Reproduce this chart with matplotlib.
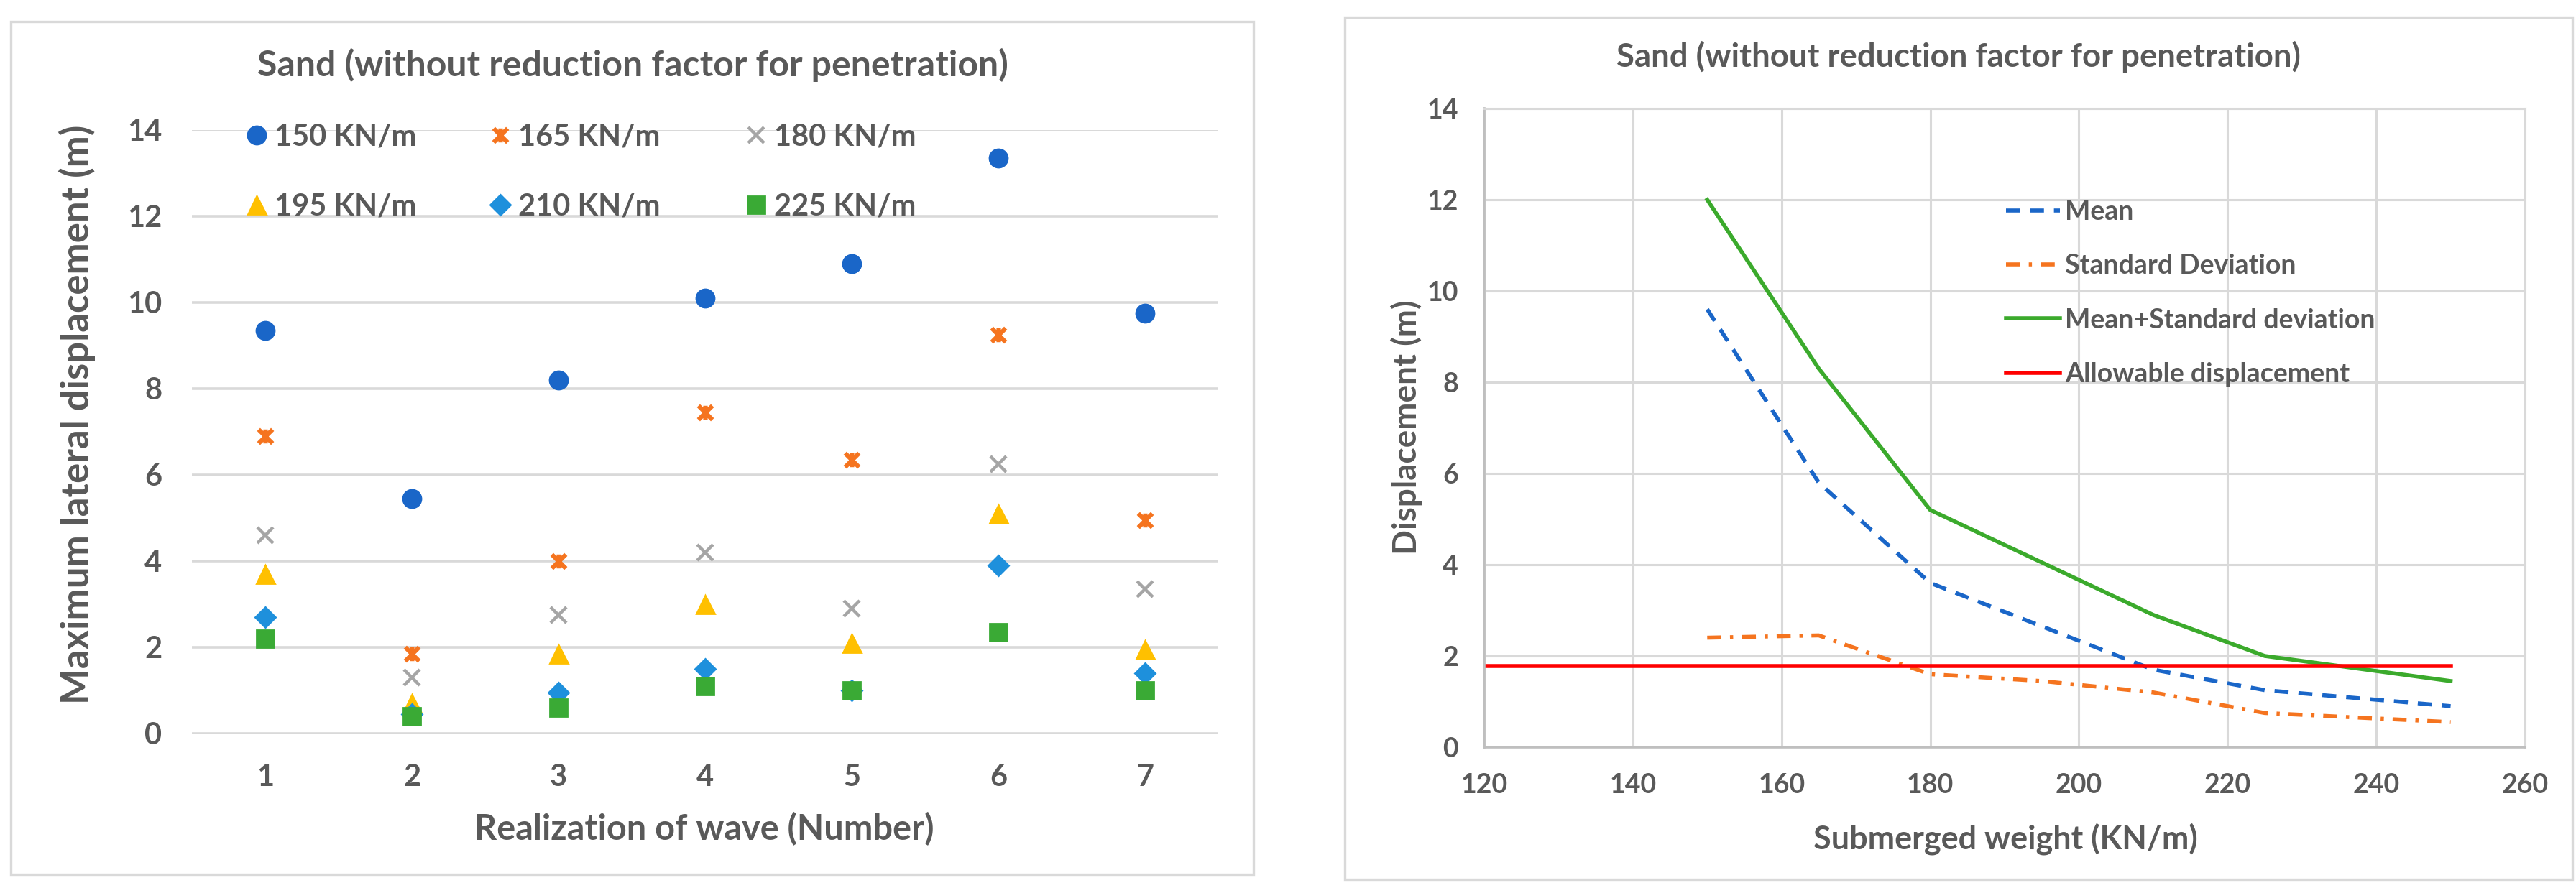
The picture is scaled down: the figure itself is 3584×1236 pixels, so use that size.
import matplotlib
matplotlib.use('Agg')
import matplotlib.pyplot as plt
from matplotlib.patches import Rectangle
from matplotlib.path import Path

# Left chart: maximum lateral displacement per wave realization
realization = [1, 2, 3, 4, 5, 6, 7]
disp_150 = [9.35, 5.45, 8.2, 10.1, 10.9, 13.35, 9.75]
disp_165 = [6.9, 1.85, 4.0, 7.45, 6.35, 9.25, 4.95]
disp_180 = [4.6, 1.3, 2.75, 4.2, 2.9, 6.25, 3.35]
disp_195 = [3.7, 0.7, 1.85, 3.0, 2.1, 5.1, 1.95]
disp_210 = [2.7, 0.45, 0.95, 1.5, 1.0, 3.9, 1.4]
disp_225 = [2.2, 0.4, 0.6, 1.1, 1.0, 2.35, 1.0]
series_labels = ['150 KN/m', '165 KN/m', '180 KN/m', '195 KN/m', '210 KN/m', '225 KN/m']

# Right chart: statistics vs submerged weight
weight = [150, 165, 180, 195, 210, 225, 250]
mean_disp = [9.6, 5.8, 3.6, 2.65, 1.7, 1.25, 0.9]
std_disp = [2.4, 2.45, 1.6, 1.45, 1.2, 0.75, 0.55]
mean_plus_std = [12.0, 8.3, 5.2, 4.05, 2.9, 2.0, 1.45]
allow_x = [120, 250]
allow_y = [1.78, 1.78]

title = 'Sand (without reduction factor for penetration)'
TXT = '#595959'
GRID = '#D9D9D9'
plt.rcParams['font.family'] = ['Lato', 'DejaVu Sans']

# Excel-like "star" marker: X with a vertical bar
star = Path([(-1, -1), (1, 1), (-1, 1), (1, -1), (0, -1), (0, 1)],
            [Path.MOVETO, Path.LINETO] * 3)

W, H = 3584, 1236
fig = plt.figure(figsize=(W / 200, H / 200), dpi=200)

def px_rect(x0, y0, x1, y1):
    return [x0 / W, 1 - y1 / H, (x1 - x0) / W, (y1 - y0) / H]

# panel borders
for x0, y0, x1, y1 in [(15, 30, 1744, 1217), (1871, 24, 3579, 1224)]:
    b = px_rect(x0, y0, x1, y1)
    fig.patches.append(Rectangle((b[0], b[1]), b[2], b[3], transform=fig.transFigure,
                                 fill=False, edgecolor=GRID, linewidth=1.2))

# ---------- left chart ----------
ax1 = fig.add_axes(px_rect(267, 181, 1695, 1021))
styles = [
    dict(marker='o', color='#1A66C8', ms=9, ls='none'),
    dict(marker=star, color='#F5741F', ms=7, mew=2.2, ls='none'),
    dict(marker='x', color='#A5A5A5', ms=8, mew=1.6, ls='none'),
    dict(marker='^', color='#FFC000', ms=9, ls='none'),
    dict(marker='D', color='#1E90DC', ms=7, ls='none'),
    dict(marker='s', color='#3AAA35', ms=8.5, ls='none'),
]
all_series = [disp_150, disp_165, disp_180, disp_195, disp_210, disp_225]
handles = []
for vals, st, lab in zip(all_series, styles, series_labels):
    h, = ax1.plot(realization, vals, label=lab, zorder=3, **st)
    handles.append(h)
ax1.set_xlim(0.5, 7.5)
ax1.set_ylim(0, 14)
ax1.set_yticks(range(0, 15, 2))
ax1.set_xticks(realization)
ax1.grid(axis='y', color=GRID, linewidth=1.3)
ax1.set_axisbelow(True)
for s in ax1.spines.values():
    s.set_visible(False)
ax1.tick_params(length=0, labelsize=15, labelcolor=TXT, pad=15)
for lab in ax1.get_xticklabels() + ax1.get_yticklabels():
    lab.set_fontweight('bold')

# legend: three columns, placed one by one
col_x = [0.054, 0.292, 0.541]
for c, x in enumerate(col_x):
    leg = ax1.legend([handles[c], handles[c + 3]], [series_labels[c], series_labels[c + 3]],
                     loc='upper left', bbox_to_anchor=(x, 1.011), frameon=False,
                     borderpad=0, borderaxespad=0, handlelength=0.6, handletextpad=0.3,
                     labelspacing=1.4, labelcolor=TXT, prop={'weight': 'bold', 'size': 15})
    if c < 2:
        ax1.add_artist(leg)

fig.text(880 / W, 1 - 90 / H, title, ha='center', va='center', fontsize=18,
         color=TXT, fontweight='bold')
fig.text(107 / W, 1 - 577 / H, 'Maximum lateral displacement (m)', rotation=90,
         ha='center', va='center', fontsize=19, color=TXT, fontweight='bold')
fig.text(980 / W, 1 - 1154 / H, 'Realization of wave (Number)', ha='center', va='center',
         fontsize=17.5, color=TXT, fontweight='bold')

# ---------- right chart ----------
ax2 = fig.add_axes(px_rect(2065, 151, 3513, 1040))
ax2.plot(weight, mean_disp, color='#1A66C8', lw=2.0, dashes=(3.5, 2.5), label='Mean')
ax2.plot(weight, std_disp, color='#F5741F', lw=2.0, dashes=(3.5, 2.2, 0.8, 2.2),
         label='Standard Deviation')
ax2.plot(weight, mean_plus_std, color='#3BAA2C', lw=2.0, label='Mean+Standard deviation')
ax2.plot(allow_x, allow_y, color='#FF0000', lw=2.0, label='Allowable displacement')
ax2.set_xlim(120, 260)
ax2.set_ylim(0, 14)
ax2.set_xticks(range(120, 261, 20))
ax2.set_yticks(range(0, 15, 2))
ax2.grid(True, color=GRID, linewidth=1.1)
ax2.set_axisbelow(True)
for name, s in ax2.spines.items():
    s.set_color('#BFBFBF' if name in ('left', 'bottom') else GRID)
    s.set_linewidth(1.3 if name in ('left', 'bottom') else 1.1)
ax2.tick_params(length=0, labelsize=13.5, labelcolor=TXT, pad=13)
for lab in ax2.get_xticklabels() + ax2.get_yticklabels():
    lab.set_fontweight('bold')
ax2.legend(loc='upper left', bbox_to_anchor=(0.478, 0.895), frameon=False,
           handlelength=2.0, handletextpad=0.2, labelspacing=1.1, labelcolor=TXT,
           prop={'weight': 'bold', 'size': 13.5})
fig.text(2725 / W, 1 - 79 / H, title, ha='center', va='center', fontsize=16.4,
         color=TXT, fontweight='bold')
fig.text(1957 / W, 1 - 595 / H, 'Displacement (m)', rotation=90, ha='center',
         va='center', fontsize=16.5, color=TXT, fontweight='bold')
fig.text(2790 / W, 1 - 1168 / H, 'Submerged weight (KN/m)', ha='center', va='center',
         fontsize=16.2, color=TXT, fontweight='bold')

fig.savefig('out.png', dpi=200)
